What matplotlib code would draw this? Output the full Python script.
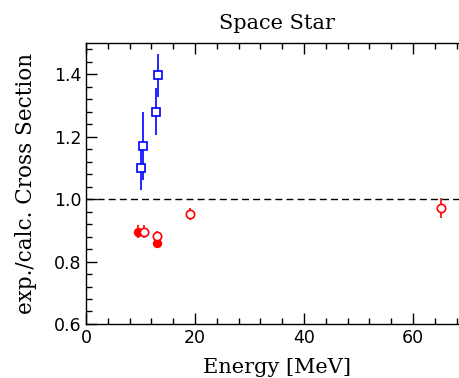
import matplotlib.pyplot as plt

# blue open squares
sq_x = [10.1, 10.4, 12.85, 13.15]
sq_y = [1.10, 1.17, 1.28, 1.396]
sq_err = [0.07, 0.11, 0.075, 0.07]

# red filled circles
fc_x = [9.5, 13.1]
fc_y = [0.896, 0.860]
fc_err = [0.022, 0.015]

# red open circles
oc_x = [10.6, 13.0, 19.1, 65.1]
oc_y = [0.896, 0.882, 0.953, 0.970]
oc_err = [0.022, 0.015, 0.02, 0.032]

serif = 'DejaVu Serif'

fig = plt.figure(figsize=(4.59, 3.78), dpi=100)
ax = fig.add_axes([0.1874, 0.1429, 0.8311, 0.7434])

ax.axhline(1.0, color='black', linestyle=(0, (5, 3)), linewidth=1)

ax.errorbar(sq_x, sq_y, yerr=sq_err, fmt='s', color='blue', mfc='white', mec='blue',
            markersize=5.5, mew=1.2, elinewidth=1.2, capsize=0)
ax.errorbar(fc_x, fc_y, yerr=fc_err, fmt='o', color='red', mfc='red', mec='red',
            markersize=5.5, mew=1.2, elinewidth=1.2, capsize=0)
ax.errorbar(oc_x, oc_y, yerr=oc_err, fmt='o', color='red', mfc='white', mec='red',
            markersize=6, mew=1.2, elinewidth=1.2, capsize=0)

ax.set_xlim(0, 70)
ax.set_ylim(0.6, 1.5)
ax.set_xticks([0, 20, 40, 60])
ax.set_xticks([i * 4 for i in range(18)], minor=True)
ax.set_yticks([0.6, 0.8, 1.0, 1.2, 1.4])
ax.set_yticks([0.6 + i * 0.04 for i in range(23)], minor=True)
ax.set_yticklabels(['0.6', '0.8', '1.0', '1.2', '1.4'])

ax.tick_params(which='both', direction='in', top=True, right=False, labelsize=12.5, colors='black')
ax.tick_params(which='major', length=8, width=1)
ax.tick_params(which='minor', length=4, width=1)
ax.spines['right'].set_visible(False)
for s in ax.spines.values():
    s.set_linewidth(1)

ax.set_title('Space Star', fontsize=15, family=serif, pad=10)
ax.set_xlabel('Energy [MeV]', fontsize=15, family=serif, labelpad=8)
ax.set_ylabel('exp./calc. Cross Section', fontsize=15.5, family=serif, labelpad=12)

fig.savefig('out.png', dpi=100)
